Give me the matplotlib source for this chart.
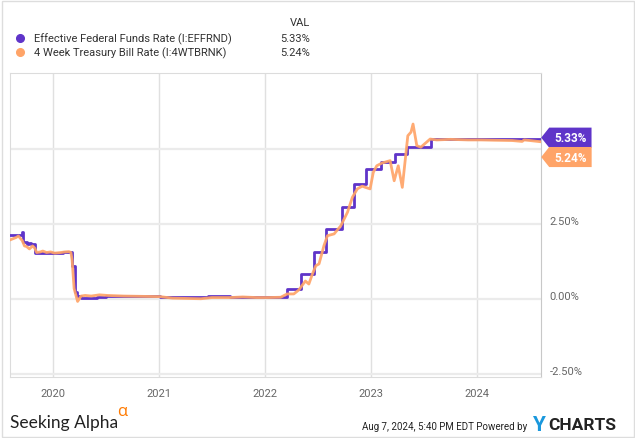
import matplotlib.pyplot as plt
import matplotlib.dates as mdates
import pandas as pd
from matplotlib.path import Path
from matplotlib.lines import Line2D
from matplotlib.patches import Rectangle

# Effective Federal Funds Rate, step changes (%)
effr_dates = ["2019-08-05", "2019-09-16", "2019-09-19", "2019-10-01", "2019-10-08",
              "2019-10-18", "2019-10-31", "2020-02-03", "2020-03-04", "2020-03-17",
              "2020-03-24", "2020-04-06", "2020-06-01", "2020-07-01", "2021-01-04",
              "2021-03-01", "2021-06-17", "2021-09-01", "2022-03-17", "2022-05-05",
              "2022-06-16", "2022-07-28", "2022-09-22", "2022-11-03", "2022-12-15",
              "2023-02-02", "2023-03-23", "2023-05-04", "2023-07-27", "2024-08-07"]
effr_vals = [2.13, 2.25, 1.90, 1.83, 1.88,
             1.83, 1.55, 1.58, 1.10, 0.25,
             0.10, 0.05, 0.08, 0.09, 0.08,
             0.07, 0.10, 0.08, 0.33, 0.83,
             1.58, 2.33, 3.08, 3.83, 4.33,
             4.58, 4.83, 5.08, 5.33, 5.33]

# 4 Week Treasury Bill Rate (%)
tbill_dates = ["2019-08-05", "2019-08-26", "2019-09-03", "2019-09-16", "2019-09-24",
               "2019-10-01", "2019-10-11", "2019-10-22", "2019-10-29", "2019-11-05",
               "2019-11-18", "2019-11-26", "2019-12-09", "2019-12-23", "2020-01-06",
               "2020-01-27", "2020-02-10", "2020-02-24", "2020-03-02", "2020-03-06",
               "2020-03-13", "2020-03-25", "2020-04-06", "2020-04-20", "2020-05-11",
               "2020-06-08", "2020-07-06", "2020-09-01", "2020-11-02", "2021-01-04",
               "2021-02-15", "2021-04-05", "2021-05-24", "2021-07-01", "2021-09-01",
               "2021-10-15", "2021-12-01", "2022-01-10", "2022-02-23", "2022-03-17",
               "2022-04-09", "2022-04-26", "2022-05-19", "2022-05-31", "2022-06-12",
               "2022-06-24", "2022-07-05", "2022-07-22", "2022-08-03", "2022-08-26",
               "2022-09-18", "2022-10-11", "2022-10-28", "2022-11-14", "2022-12-01",
               "2022-12-12", "2022-12-28", "2023-01-08", "2023-01-20", "2023-02-07",
               "2023-02-24", "2023-03-07", "2023-03-21", "2023-04-04", "2023-04-18",
               "2023-05-07", "2023-05-18", "2023-05-25", "2023-06-07", "2023-06-21",
               "2023-07-23", "2023-08-15", "2023-10-01", "2023-12-01", "2024-01-15",
               "2024-03-01", "2024-05-01", "2024-06-04", "2024-06-11", "2024-07-01",
               "2024-08-07"]
tbill_vals = [1.97, 2.05, 2.10, 1.95, 1.77,
              1.75, 1.67, 1.77, 1.70, 1.55,
              1.57, 1.60, 1.55, 1.57, 1.53,
              1.55, 1.57, 1.58, 1.55, 1.30,
              0.35, -0.08, 0.10, 0.12, 0.10,
              0.14, 0.12, 0.10, 0.09, 0.08,
              0.03, 0.02, 0.01, 0.05, 0.05,
              0.07, 0.05, 0.05, 0.06, 0.17,
              0.17, 0.30, 0.60, 0.50, 0.83,
              1.11, 1.17, 1.78, 2.11, 2.17,
              2.44, 2.89, 3.39, 3.67, 3.76,
              3.72, 3.67, 4.22, 4.44, 4.53,
              4.58, 4.61, 3.94, 4.44, 3.72,
              5.44, 5.56, 5.83, 5.11, 5.06,
              5.33, 5.30, 5.32, 5.30, 5.30,
              5.29, 5.28, 5.25, 5.30, 5.28,
              5.24]

series_names = ["Effective Federal Funds Rate (I:EFFRND)", "4 Week Treasury Bill Rate (I:4WTBRNK)"]
y_ticks = [-2.5, 0, 2.5, 5]
y_labels = ["-2.50%", "0.00%", "2.50%", ""]

PURPLE = "#5f34c9"
ORANGE = "#ffa468"

W, H = 635, 439
fig = plt.figure(figsize=(W / 100, H / 100), dpi=100)
plt.rcParams["font.family"] = ["Roboto", "DejaVu Sans"]

ax = fig.add_axes([10 / W, 61.5 / H, 531 / W, 303.5 / H])

effr_x = pd.to_datetime(effr_dates)
tbill_x = pd.to_datetime(tbill_dates)
ax.plot(effr_x, effr_vals, color=PURPLE, lw=2, drawstyle="steps-post", zorder=3)
ax.plot(tbill_x, tbill_vals, color=ORANGE, lw=2, alpha=0.92, zorder=4)

ax.set_xlim(pd.Timestamp("2019-08-05"), pd.Timestamp("2024-08-08"))
ax.set_ylim(-2.58, 7.53)

ax.xaxis.set_major_locator(mdates.YearLocator())
ax.xaxis.set_major_formatter(mdates.DateFormatter("%Y"))
ax.set_yticks(y_ticks, y_labels, va="baseline")
ax.yaxis.tick_right()
ax.tick_params(axis="x", length=0, pad=8, labelsize=8, labelcolor="#666666")
ax.tick_params(axis="y", length=0, pad=6, labelsize=8, labelcolor="#666666")

ax.grid(axis="y", color="#ebebeb", lw=1.6)
ax.grid(axis="x", color="#e0e0e0", lw=1)
ax.set_axisbelow(True)
for side in ["left", "top", "bottom"]:
    ax.spines[side].set_color("#dcdcdc")
ax.spines["right"].set_color("#c8c8c8")


def tag_box(x0, y0, width, height, mutation_size):
    # rectangle with a left pointing notch, like the value tags
    padx, pady = 0.42 * mutation_size, 0.3 * mutation_size
    x0, y0 = x0 - padx, y0 - pady
    w, h = width + 2 * padx, height + 2 * pady
    tip = 0.4 * h
    verts = [(x0 - tip, y0 + h / 2), (x0, y0 + h), (x0 + w, y0 + h),
             (x0 + w, y0), (x0, y0), (x0 - tip, y0 + h / 2)]
    return Path(verts, closed=True)


for val, col, dy in [(effr_vals[-1], PURPLE, 1), (tbill_vals[-1], ORANGE, -11)]:
    ax.annotate(f"{val:.2f}%", xy=(1, val), xycoords=("axes fraction", "data"),
                xytext=(9.5, dy), textcoords="offset points", ha="left", va="center",
                color="white", fontsize=8.5, fontweight="bold",
                bbox=dict(boxstyle=tag_box, fc=col, ec="none"),
                annotation_clip=False, zorder=10)

# legend block
fig.text(310 / W, 1 - 23 / H, "VAL", ha="right", va="center", fontsize=8, color="#333333")
for i, (name, col, last) in enumerate(zip(series_names, [PURPLE, ORANGE],
                                          [effr_vals[-1], tbill_vals[-1]])):
    yy = 1 - (39 + 14 * i) / H
    fig.add_artist(Line2D([20 / W], [yy], marker="o", ms=5.5, color=col,
                          transform=fig.transFigure))
    fig.text(34 / W, yy, name, ha="left", va="center", fontsize=8, color="#333333")
    fig.text(310 / W, yy, f"{last:.2f}%", ha="right", va="center", fontsize=8, color="#333333")

# footer
fig.text(10 / W, 1 - 428 / H, "Seeking Alpha", ha="left", va="baseline",
         fontsize=12.5, family="Lato", color="#222222")
fig.text(117 / W, 1 - 416 / H, "\u03b1", ha="left", va="baseline",
         fontsize=12, family="Open Sans", color="#ff7a00")
fig.text(527 / W, 1 - 427 / H, "Aug 7, 2024, 5:40 PM EDT Powered by", ha="right", va="center",
         fontsize=7, color="#222222")
fig.text(532 / W, 1 - 426 / H, "Y", ha="left", va="center", fontsize=15,
         fontweight="bold", color="#1a98dd")
fig.text(548 / W, 1 - 426 / H, "CHARTS", ha="left", va="center", fontsize=12.5,
         fontweight="bold", color="#222222")

fig.add_artist(Rectangle((1.5 / W, 1.5 / H), 632 / W, 436 / H, transform=fig.transFigure,
                         fill=False, ec="#dddddd", lw=1))

fig.savefig("out.png", dpi=100)
